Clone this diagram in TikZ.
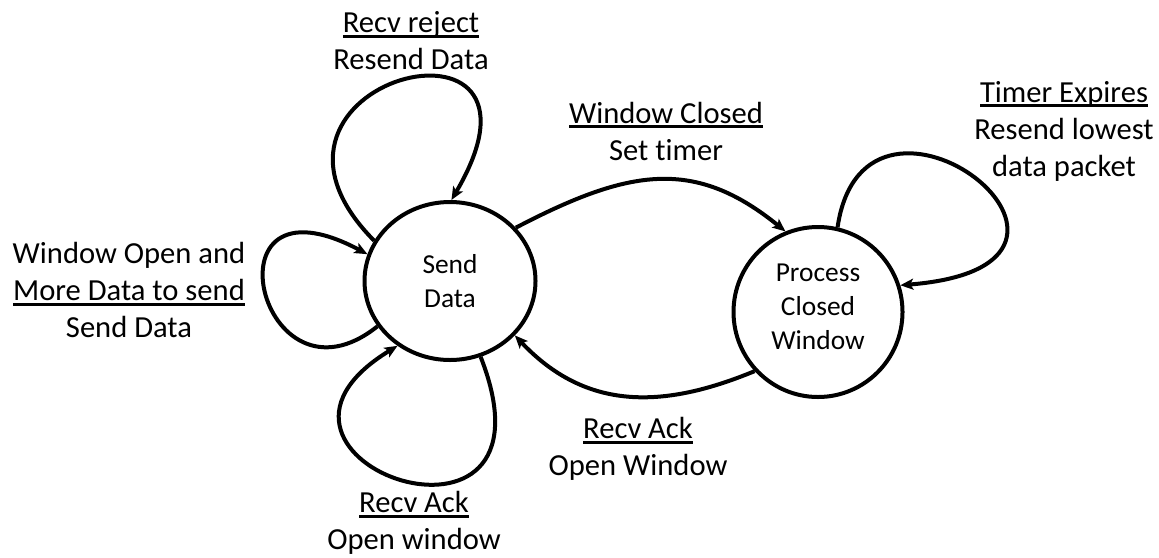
\documentclass[tikz,border=0pt]{standalone}
\usepackage{fontspec}
\setmainfont{Carlito}[Ligatures=NoCommon]
\usetikzlibrary{shapes.geometric,arrows.meta}
\newsavebox\ulbox
\newcommand\ulx[1]{\sbox\ulbox{#1}\rlap{\rule[-2.6pt]{\wd\ulbox}{1.5pt}}\usebox\ulbox}
\begin{document}
\begin{tikzpicture}[x=0.5pt,y=-0.5pt,
  state/.style={ellipse,draw,line width=2pt,inner sep=0pt,font=\fontsize{13.7}{17}\selectfont,align=center},
  lbl/.style={align=center,font=\fontsize{15.3}{18.5}\selectfont,inner sep=0pt},
  conn/.style={line width=2pt,-{Stealth[length=6.5pt,width=5.5pt,inset=1.5pt]}}]
\useasboundingbox (0,0) rectangle (1159,557);
\node[state,minimum width=85.5pt,minimum height=79pt] (sd) at (450,281) {Send\\Data};
\node[state,minimum width=84.5pt,minimum height=85pt] (pc) at (818,312) {Process\\Closed\\Window\rule[-5pt]{0pt}{5pt}};
\node[lbl] (l1) at (411,41) {\ulx{Recv reject}\\Resend Data};
\node[lbl] (l2) at (666,131) {\ulx{Window Closed}\\Set timer};
\node[lbl] (l3) at (1064,131) {\ulx{Timer Expires}\\Resend lowest\\data packet};
\node[lbl] (l4) at (129,290) {Window Open and\\\ulx{More Data to send}\\Send Data};
\node[lbl] (l5) at (638,449) {\ulx{Recv Ack}\\Open Window};
\node[lbl] (l6) at (414,523) {\ulx{Recv Ack}\\Open window};
\draw[conn] (sd.152) .. controls (215,80) and (575,-10) .. (sd.89);
\draw[conn] (sd.212) .. controls (260,420) and (200,165) .. (sd.162);
\draw[conn] (sd.292) .. controls (570,585) and (210,460) .. (sd.231);
\draw[conn] (sd.39) .. controls (630,168) and (695,158) .. (pc.112);
\draw[conn] (pc.77) .. controls (865,40) and (1155,265) .. (pc.18);
\draw[conn] (pc.223) .. controls (663,409) and (586,411) .. (sd.320);
\end{tikzpicture}
\end{document}
